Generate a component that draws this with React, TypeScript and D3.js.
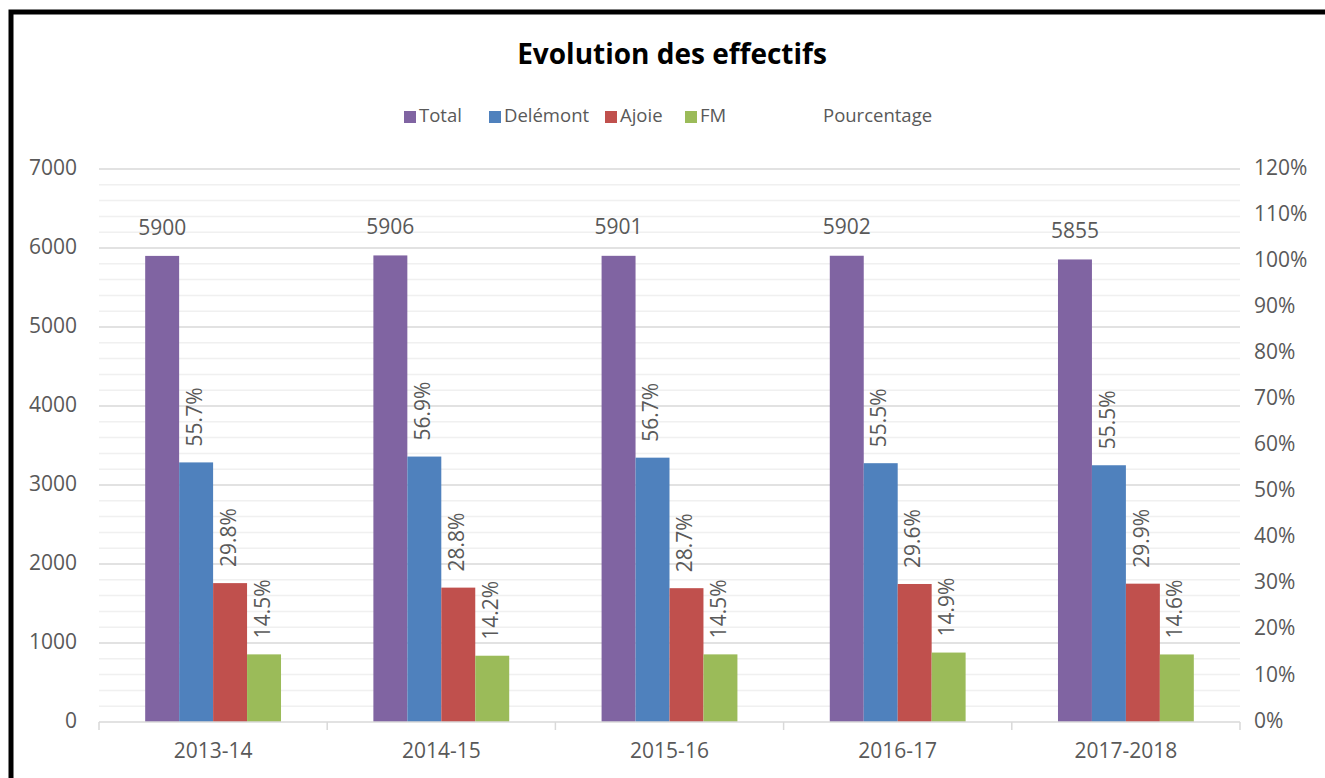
import { useEffect, useRef } from 'react';
import * as d3 from 'd3';

const categories = ['2013-14', '2014-15', '2015-16', '2016-17', '2017-2018'];
const seriesNames = ['Total', 'Delémont', 'Ajoie', 'FM'];
const total = [5900, 5906, 5901, 5902, 5855];
const delemont = [3286, 3360, 3346, 3276, 3250];
const ajoie = [1758, 1701, 1694, 1747, 1751];
const fm = [856, 839, 856, 879, 855];
const pctDelemont = [55.7, 56.9, 56.7, 55.5, 55.5];
const pctAjoie = [29.8, 28.8, 28.7, 29.6, 29.9];
const pctFm = [14.5, 14.2, 14.5, 14.9, 14.6];
const leftTicks = [0, 1000, 2000, 3000, 4000, 5000, 6000, 7000];
const rightTicks = [0, 10, 20, 30, 40, 50, 60, 70, 80, 90, 100, 110, 120];

const colors: Record<string, string> = {
  Total: '#8064a2',
  'Delémont': '#4f81bd',
  Ajoie: '#c0504d',
  FM: '#9bbb59',
};

const FONT = '"Open Sans", "Noto Sans", sans-serif';
const TEXT = '#595959';
const LABEL_SIZE = '21px';

const App = () => {
  const ref = useRef<SVGSVGElement>(null);

  useEffect(() => {
    if (!ref.current) return;
    const svg = d3.select(ref.current);
    svg.selectAll('*').remove();

    const W = 1325;
    const H = 778;
    const left = 99;
    const right = 1240;
    const top = 169;
    const bottom = 722;

    svg.append('rect').attr('width', W).attr('height', H).attr('fill', '#fff');
    // frame
    svg.append('rect')
      .attr('x', 11).attr('y', 12)
      .attr('width', W + 20).attr('height', H + 20)
      .attr('fill', 'none').attr('stroke', '#000').attr('stroke-width', 5);

    // title
    svg.append('text')
      .attr('x', 672).attr('y', 57)
      .attr('text-anchor', 'middle').attr('dominant-baseline', 'middle')
      .style('font-family', FONT).style('font-size', '28px').style('font-weight', 'bold')
      .attr('fill', '#000')
      .text('Evolution des effectifs');

    // legend
    const legendItems = [
      { name: 'Total', x: 404 },
      { name: 'Delémont', x: 489 },
      { name: 'Ajoie', x: 605 },
      { name: 'FM', x: 685 },
    ];
    legendItems.forEach(d => {
      svg.append('rect')
        .attr('x', d.x).attr('y', 111).attr('width', 12).attr('height', 12)
        .attr('fill', colors[d.name]);
      svg.append('text')
        .attr('x', d.x + 15).attr('y', 117)
        .attr('dominant-baseline', 'middle')
        .style('font-family', FONT).style('font-size', '18.5px')
        .attr('fill', TEXT).text(d.name);
    });
    svg.append('text')
      .attr('x', 823).attr('y', 117)
      .attr('dominant-baseline', 'middle')
      .style('font-family', FONT).style('font-size', '18.5px')
      .attr('fill', TEXT).text('Pourcentage');

    const y = d3.scaleLinear().domain([0, 7000]).range([bottom, top]);
    const yPct = d3.scaleLinear().domain([0, 120]).range([bottom, top]);
    const x = d3.scaleBand().domain(categories).range([left, right]).padding(0);
    const xs = d3.scaleBand().domain(seriesNames).range([0, x.bandwidth()])
      .paddingInner(0).paddingOuter(1.36);

    // gridlines
    const minor = d3.range(0, 7001, 200).filter(v => v % 1000 !== 0);
    svg.append('g').selectAll('line').data(minor).enter().append('line')
      .attr('x1', left).attr('x2', right)
      .attr('y1', d => y(d)).attr('y2', d => y(d))
      .attr('stroke', '#f0f0f0').attr('stroke-width', 1.5);
    svg.append('g').selectAll('line').data(leftTicks.slice(1)).enter().append('line')
      .attr('x1', left).attr('x2', right)
      .attr('y1', d => y(d)).attr('y2', d => y(d))
      .attr('stroke', '#d9d9d9').attr('stroke-width', 1.5);

    // axes labels
    svg.append('g').selectAll('text').data(leftTicks).enter().append('text')
      .attr('x', 77).attr('y', d => y(d))
      .attr('text-anchor', 'end').attr('dominant-baseline', 'middle')
      .style('font-family', FONT).style('font-size', LABEL_SIZE)
      .attr('fill', TEXT).text(d => d);
    svg.append('g').selectAll('text').data(rightTicks).enter().append('text')
      .attr('x', 1254).attr('y', d => yPct(d))
      .attr('dominant-baseline', 'middle')
      .style('font-family', FONT).style('font-size', LABEL_SIZE)
      .attr('fill', TEXT).text(d => `${d}%`);

    // bars
    const seriesValues = [total, delemont, ajoie, fm];
    seriesNames.forEach((name, si) => {
      svg.append('g').selectAll('rect').data(categories).enter().append('rect')
        .attr('x', c => (x(c) || 0) + (xs(name) || 0))
        .attr('y', (c, i) => y(seriesValues[si][i]))
        .attr('width', xs.bandwidth())
        .attr('height', (c, i) => bottom - y(seriesValues[si][i]))
        .attr('fill', colors[name]);
    });

    // total labels
    svg.append('g').selectAll('text').data(categories).enter().append('text')
      .attr('x', c => (x(c) || 0) + (xs('Total') || 0) + xs.bandwidth() / 2)
      .attr('y', (c, i) => y(total[i]) - 27)
      .attr('text-anchor', 'middle').attr('dominant-baseline', 'middle')
      .style('font-family', FONT).style('font-size', LABEL_SIZE)
      .attr('fill', TEXT).text((c, i) => total[i]);

    // percentage labels
    const pctSeries = [
      { name: 'Delémont', vals: delemont, pct: pctDelemont },
      { name: 'Ajoie', vals: ajoie, pct: pctAjoie },
      { name: 'FM', vals: fm, pct: pctFm },
    ];
    pctSeries.forEach(s => {
      svg.append('g').selectAll('text').data(categories).enter().append('text')
        .attr('transform', (c, i) => {
          const cx = (x(c) || 0) + (xs(s.name) || 0) + xs.bandwidth() / 2;
          const cy = y(s.vals[i]) - 16;
          return `translate(${cx},${cy}) rotate(-90)`;
        })
        .attr('dominant-baseline', 'middle')
        .style('font-family', FONT).style('font-size', LABEL_SIZE)
        .attr('fill', TEXT).text((c, i) => `${s.pct[i].toFixed(1)}%`);
    });

    // x axis
    svg.append('line')
      .attr('x1', left).attr('x2', right).attr('y1', bottom).attr('y2', bottom)
      .attr('stroke', '#d9d9d9').attr('stroke-width', 1.5);
    const tickXs = categories.map(c => x(c) || 0).concat([right]);
    svg.append('g').selectAll('line').data(tickXs).enter().append('line')
      .attr('x1', d => d).attr('x2', d => d).attr('y1', bottom).attr('y2', bottom + 8)
      .attr('stroke', '#d9d9d9').attr('stroke-width', 1.5);
    svg.append('g').selectAll('text').data(categories).enter().append('text')
      .attr('x', c => (x(c) || 0) + x.bandwidth() / 2)
      .attr('y', 752)
      .attr('text-anchor', 'middle').attr('dominant-baseline', 'middle')
      .style('font-family', FONT).style('font-size', LABEL_SIZE)
      .attr('fill', TEXT).text(c => c);
  }, []);

  return (
    <svg
      ref={ref}
      width={1325}
      height={778}
      style={{ position: 'fixed', left: 0, top: 0, display: 'block' }}
    />
  );
};

export default App;
